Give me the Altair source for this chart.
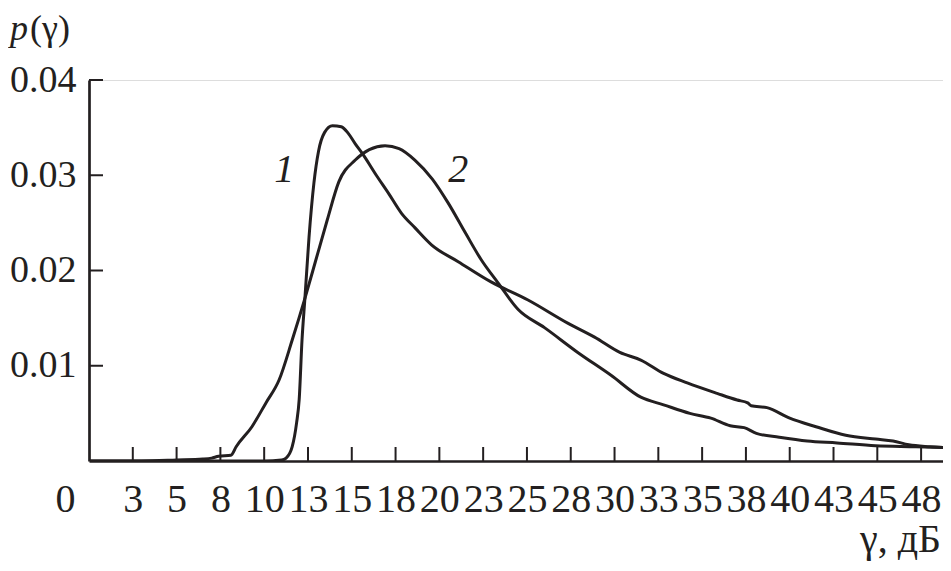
import json
import altair as alt
import pandas as pd

# ---- data ----
curve1_x = [0, 5, 10, 11.0, 11.25, 11.6, 11.85, 12.0, 12.16, 12.33, 12.56, 12.84, 13.1, 13.45,
            13.9, 14.4, 14.8, 15.2, 15.6, 16.4, 17.1, 17.84, 18.6, 19.55, 21.1, 22.95,
            25.06, 27.3, 28.86, 30.3, 31.5, 32.8, 34.15, 35.85, 37.0, 37.6, 37.8, 38.7,
            40.0, 41.5, 43.2, 44.9, 45.9, 46.8, 48.0, 49.0]
curve1_y = [0, 0, 0, 0.0001, 0.0003, 0.0015, 0.004, 0.0065, 0.0127, 0.0172, 0.0235, 0.0292,
            0.0325, 0.0345, 0.0352, 0.0351, 0.0344, 0.0333, 0.0323, 0.0300, 0.0281, 0.0260,
            0.0245, 0.0227, 0.0209, 0.0188, 0.0169, 0.0145, 0.0130, 0.0114, 0.0106, 0.0092,
            0.0082, 0.0071, 0.0064, 0.0061, 0.0058, 0.0056, 0.0045, 0.0036, 0.0027, 0.0023,
            0.0021, 0.0017, 0.0015, 0.0014]

curve2_x = [0, 3, 5, 6.5, 7.0, 7.4, 8.1, 8.4, 9.3, 10.1, 10.85, 11.6, 12.33, 12.95, 13.6,
            14.26, 15.2, 16.0, 16.9, 17.7, 18.6, 19.6, 20.5, 21.5, 22.4, 23.35, 24.5, 26.0,
            27.9, 29.8, 31.5, 32.8, 34.3, 35.5, 36.6, 37.4, 38.1, 39.4, 41.0, 42.7, 44.9,
            47.2, 49.0]
curve2_y = [0, 0, 0.0001, 0.0002, 0.0003, 0.0005, 0.0006, 0.0015, 0.0036, 0.0061, 0.0085,
            0.0127, 0.0171, 0.0211, 0.0253, 0.0293, 0.0316, 0.0327, 0.0331, 0.0328, 0.0316,
            0.0296, 0.0271, 0.0239, 0.0211, 0.0187, 0.0159, 0.0140, 0.0114, 0.0090, 0.0067,
            0.0059, 0.0050, 0.0045, 0.0037, 0.0035, 0.0029, 0.0025, 0.0021, 0.0019, 0.0016,
            0.0015, 0.0014]

x_tick_values = [0, 2.5, 5, 7.5, 10, 12.5, 15, 17.5, 20, 22.5, 25, 27.5, 30, 32.5, 35,
                 37.5, 40, 42.5, 45, 47.5]
x_tick_labels = ["0", "3", "5", "8", "10", "13", "15", "18", "20", "23", "25", "28", "30",
                 "33", "35", "38", "40", "43", "45", "48"]
y_tick_values = [0.01, 0.02, 0.03, 0.04]
y_tick_labels = ["0.01", "0.02", "0.03", "0.04"]

curve_names = ["1", "2"]
curve_label_x = [11.14, 21.08]
curve_label_y = [0.0293, 0.0293]

y_title_parts = ["p", "(γ)"]
x_title = "γ, дБ"

# ---- build ----
W, H = 854, 381
FONT = "Liberation Serif"
INK = "#231f20"
X_MAX = 48.75
FS = 40


def label_expr(values, labels):
    expr = "''"
    for v, l in reversed(list(zip(values, labels))):
        expr = f"abs(datum.value - {v}) < 1e-9 ? {json.dumps(l)} : ({expr})"
    return expr


df = pd.concat([
    pd.DataFrame({"x": curve1_x, "y": curve1_y, "c": "1"}),
    pd.DataFrame({"x": curve2_x, "y": curve2_y, "c": "2"}),
])

xscale = alt.Scale(domain=[0, X_MAX], nice=False, zero=False)
yscale = alt.Scale(domain=[0, 0.04], nice=False)

xaxis = alt.Axis(values=x_tick_values, labelExpr=label_expr(x_tick_values, x_tick_labels),
                 title=None, ticks=False,
                 grid=False, domainColor=INK, domainWidth=2.7, labelFont=FONT,
                 labelFontSize=FS, labelColor=INK, labelPadding=18, labelFlush=False,
                 labelOverlap=False, labelBound=False,
                 labelOffset={"condition": {"test": "datum.value == 0", "value": -24}, "value": 0})
yaxis = alt.Axis(values=y_tick_values, labelExpr=label_expr(y_tick_values, y_tick_labels),
                 title=None, ticks=False,
                 grid=False, domainColor=INK, domainWidth=2.7, labelFont=FONT,
                 labelFontSize=38, labelColor=INK, labelPadding=13, labelFlush=False,
                 labelOverlap=False)

lines = alt.Chart(df).mark_line(color=INK, strokeWidth=3, interpolate="monotone", clip=True).encode(
    x=alt.X("x:Q", scale=xscale, axis=xaxis),
    y=alt.Y("y:Q", scale=yscale, axis=yaxis),
    detail="c:N",
)

xt = alt.Chart(pd.DataFrame({"v": x_tick_values[1:]})).mark_rule(color=INK, strokeWidth=2).encode(
    x=alt.X("v:Q", scale=xscale), y=alt.value(H), y2=alt.value(H - 14))
yt = alt.Chart(pd.DataFrame({"v": y_tick_values})).mark_rule(color=INK, strokeWidth=2).encode(
    y=alt.Y("v:Q", scale=yscale), x=alt.value(0), x2=alt.value(14))

clabels = alt.Chart(pd.DataFrame({"t": curve_names, "x": curve_label_x, "y": curve_label_y})).mark_text(
    font=FONT, fontSize=FS, fontStyle="italic", color=INK, align="center", baseline="alphabetic"
).encode(x=alt.X("x:Q", scale=xscale), y=alt.Y("y:Q", scale=yscale), text="t:N")

pt = alt.Chart(pd.DataFrame({"t": [y_title_parts[0]]})).mark_text(
    font=FONT, fontSize=36, fontStyle="italic", color=INK, align="left", baseline="alphabetic"
).encode(x=alt.value(-79), y=alt.value(-40), text="t:N")
gt = alt.Chart(pd.DataFrame({"t": [y_title_parts[1]]})).mark_text(
    font=FONT, fontSize=36, color=INK, align="left", baseline="alphabetic"
).encode(x=alt.value(-59), y=alt.value(-40), text="t:N")
xtt = alt.Chart(pd.DataFrame({"t": [x_title]})).mark_text(
    font=FONT, fontSize=FS, color=INK, align="right", baseline="alphabetic"
).encode(x=alt.value(W - 2), y=alt.value(472), text="t:N")

chart = alt.layer(lines, xt, yt, clabels, pt, gt, xtt).properties(
    width=W, height=H,
    autosize=alt.AutoSizeParams(type="none"),
    padding={"left": 81, "top": 72, "right": 0, "bottom": 102},
).configure_view(stroke=None).configure(background="white")

chart.save("out.html", embed_options={"renderer": "svg", "actions": False})
